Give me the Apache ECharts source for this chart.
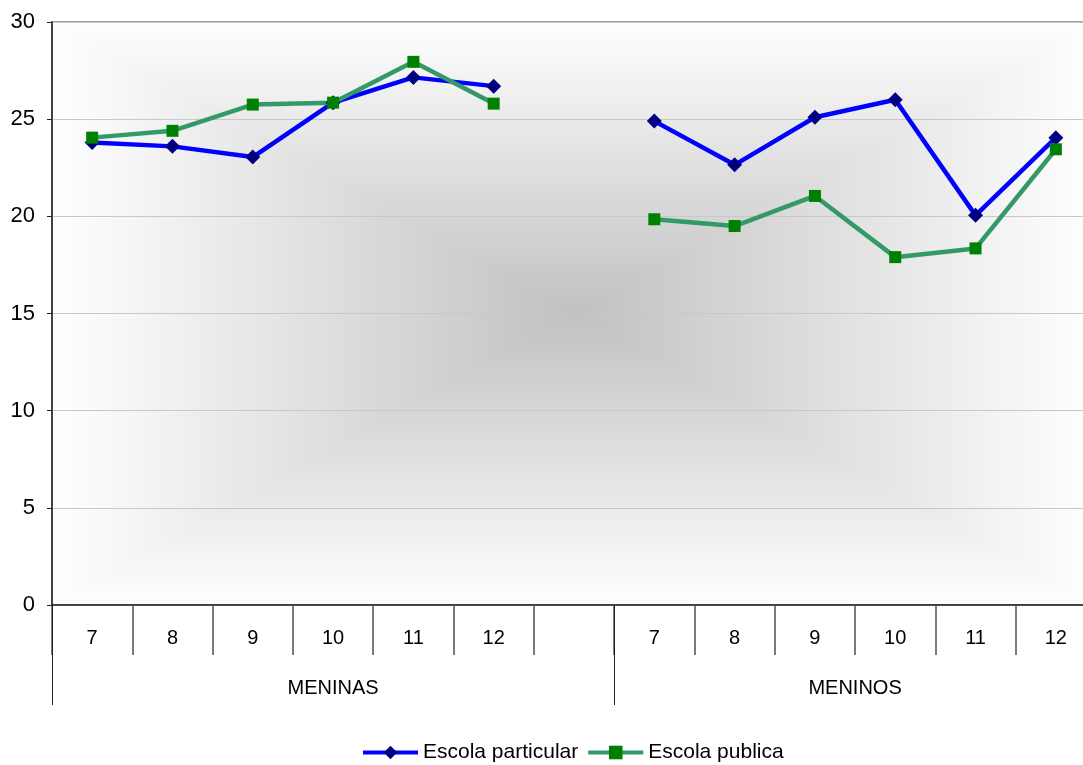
<!DOCTYPE html>
<html>
<head>
<meta charset="utf-8">
<script src="https://cdn.jsdelivr.net/npm/echarts@6/dist/echarts.min.js"></script>
<style>
  html, body { margin: 0; padding: 0; background: #ffffff; }
  #chart { width: 1083px; height: 765px; }
</style>
</head>
<body>
<div id="chart"></div>
<script>
// Age categories, with an empty slot separating the two groups
const categories = ['7', '8', '9', '10', '11', '12', '', '7', '8', '9', '10', '11', '12'];
// Group labels and the category index range each one covers [start, end)
const groupNames = ['MENINAS', 'MENINOS'];
const groupStarts = [0, 7];
const groupEnds = [7, 13];
// Series values
const particular = [23.8, 23.6, 23.05, 25.85, 27.15, 26.7, null, 24.9, 22.65, 25.1, 26.0, 20.05, 24.05];
const publica = [24.05, 24.4, 25.75, 25.85, 27.95, 25.8, null, 19.85, 19.5, 21.05, 17.9, 18.35, 23.45];
// Y axis ticks
const yTicks = [0, 5, 10, 15, 20, 25, 30];

const FONT = "'Liberation Sans', Arial, sans-serif";
// The plot runs a little past the right edge of the canvas
const GRID = { left: 52, top: 22, width: 1044, height: 583 };

const groupCenters = groupNames.map((_, i) => (groupStarts[i] + groupEnds[i]) / 2);
const groupBounds = groupStarts.concat([groupEnds[groupEnds.length - 1]]);

// Rectangular "from centre" shading behind the plot: four triangles meeting in the middle
function backdrop() {
  const x0 = GRID.left, y0 = GRID.top;
  const x1 = x0 + GRID.width, y1 = y0 + GRID.height;
  const ix0 = x0 + 16, iy0 = y0 + 8, ix1 = x1 - 16, iy1 = y1 - 9;
  const cx = (ix0 + ix1) / 2, cy = (iy0 + iy1) / 2;
  const edge = '#fdfdfd', mid = '#c1c1c1';
  const grad = (x, y, x2, y2) => ({
    type: 'linear', x, y, x2, y2,
    colorStops: [{ offset: 0, color: edge }, { offset: 1, color: mid }]
  });
  const tri = (pts, g) => ({
    type: 'polygon', silent: true, z: -10,
    shape: { points: pts },
    style: { fill: g, stroke: g, lineWidth: 1.5, lineJoin: 'round' }
  });
  return [
    { type: 'rect', silent: true, z: -11, shape: { x: x0, y: y0, width: x1 - x0, height: y1 - y0 }, style: { fill: edge } },
    tri([[ix0, iy0], [ix1, iy0], [cx, cy]], grad(0, 0, 0, 1)),
    tri([[ix0, iy1], [ix1, iy1], [cx, cy]], grad(0, 1, 0, 0)),
    tri([[ix0, iy0], [ix0, iy1], [cx, cy]], grad(0, 0, 1, 0)),
    tri([[ix1, iy0], [ix1, iy1], [cx, cy]], grad(1, 0, 0, 0))
  ];
}

const chart = echarts.init(document.getElementById('chart'), null, { renderer: 'canvas' });
chart.setOption({
  animation: false,
  backgroundColor: '#ffffff',
  textStyle: { fontFamily: FONT },
  graphic: backdrop(),
  grid: {
    left: GRID.left, top: GRID.top, width: GRID.width, height: GRID.height,
    outerBoundsMode: 'none', containLabel: false,
    show: true, backgroundColor: 'transparent', borderColor: '#808080', borderWidth: 1.5
  },
  legend: {
    left: 361, top: 742, padding: 0,
    itemWidth: 55, itemHeight: 17, itemGap: 8,
    textStyle: { fontFamily: FONT, fontSize: 21, color: '#000' },
    lineStyle: { width: 4 },
    data: ['Escola particular', 'Escola publica']
  },
  xAxis: [
    {
      type: 'category',
      data: categories,
      boundaryGap: true,
      position: 'bottom',
      axisLine: { show: true, lineStyle: { color: '#202020', width: 1.5 } },
      axisTick: { show: true, interval: 0, length: 50, lineStyle: { color: '#505050', width: 1.5 } },
      axisLabel: { interval: 0, margin: 23, fontSize: 20, color: '#000', fontFamily: FONT },
      splitLine: { show: false }
    },
    {
      type: 'value',
      min: 0, max: categories.length,
      position: 'bottom',
      axisLine: { show: false },
      axisTick: { show: true, customValues: groupBounds, length: 100, lineStyle: { color: '#202020', width: 1 } },
      axisLabel: {
        customValues: groupCenters, margin: 73, fontSize: 20, color: '#000', fontFamily: FONT,
        formatter: (v) => {
          const i = groupCenters.indexOf(v);
          return i >= 0 ? groupNames[i] : '';
        }
      },
      splitLine: { show: false }
    }
  ],
  yAxis: {
    type: 'value',
    min: yTicks[0], max: yTicks[yTicks.length - 1], interval: yTicks[1] - yTicks[0],
    axisLine: { show: true, lineStyle: { color: '#202020', width: 1.5 } },
    axisTick: { show: true, length: 5, lineStyle: { color: '#202020' } },
    axisLabel: { margin: 17, fontSize: 22, color: '#000', fontFamily: FONT },
    splitLine: { show: true, lineStyle: { color: '#c8c8c8', width: 1 } }
  },
  series: [
    {
      name: 'Escola particular',
      type: 'line',
      xAxisIndex: 0,
      data: particular,
      connectNulls: false,
      symbol: 'diamond',
      symbolSize: [15, 15],
      lineStyle: { color: '#0000ff', width: 4.5 },
      itemStyle: { color: '#000080', borderWidth: 0 },
      emphasis: { disabled: true }
    },
    {
      name: 'Escola publica',
      type: 'line',
      xAxisIndex: 0,
      data: publica,
      connectNulls: false,
      symbol: 'rect',
      symbolSize: 12,
      lineStyle: { color: '#339966', width: 4.5 },
      itemStyle: { color: '#008000', borderWidth: 0 },
      emphasis: { disabled: true }
    }
  ]
});
</script>
</body>
</html>
